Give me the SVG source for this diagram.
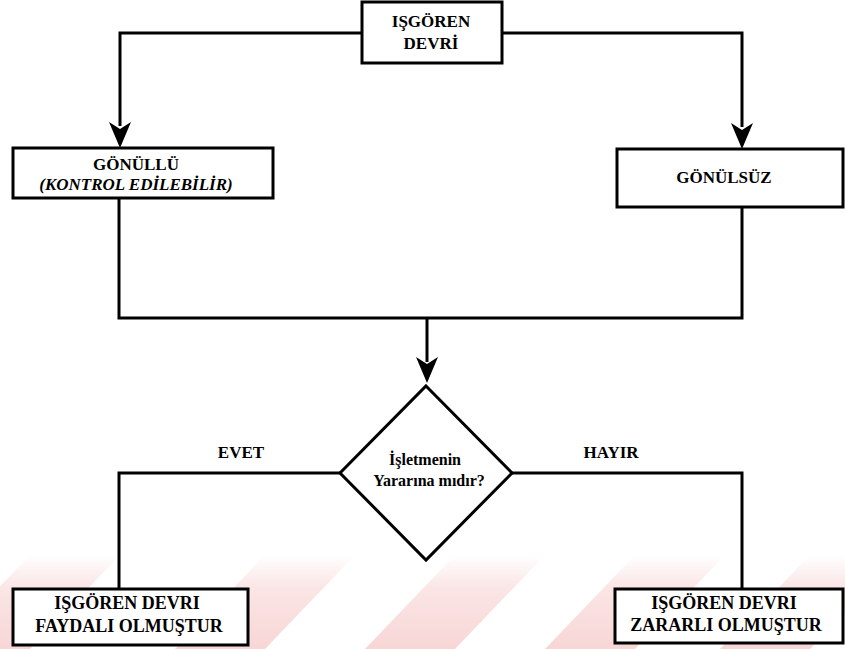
<svg xmlns="http://www.w3.org/2000/svg" width="845" height="649" viewBox="0 0 845 649">
<style>
.box{fill:#fff;stroke:#000;stroke-width:3}
.ln{fill:none;stroke:#000;stroke-width:3}
text{font-family:'Liberation Serif','Times New Roman','DejaVu Serif',serif;font-weight:bold;font-size:17px;fill:#000;text-anchor:middle}
.it{font-style:italic}
.d{font-size:16px}
.b{font-size:18px}
.ah{fill:#000}
</style>
<defs>
<linearGradient id="wm" x1="0" y1="0" x2="0" y2="1">
<stop offset="0" stop-color="#f7d0d0" stop-opacity="0"/>
<stop offset="0.35" stop-color="#f7d0d0" stop-opacity="0.55"/>
<stop offset="1" stop-color="#f5c4c4" stop-opacity="0.7"/>
</linearGradient>
<path id="arrow" d="M0,0 L-11,-26 L0,-19 L11,-26 Z"/>
</defs>
<rect width="845" height="649" fill="#fff"/>
<g id="watermark" fill="url(#wm)">
<polygon points="-60,649 30,649 120,555 30,555"/>
<polygon points="175,649 265,649 355,555 265,555"/>
<polygon points="365,649 455,649 545,555 455,555"/>
<polygon points="545,649 635,649 725,555 635,555"/>
<polygon points="720,649 810,649 900,555 810,555"/>
</g>
<g id="connectors">
<polyline class="ln" points="362,33 120,33 120,126"/>
<polyline class="ln" points="502,33 742,33 742,127"/>
<use href="#arrow" x="120" y="148" class="ah"/>
<use href="#arrow" x="742" y="149" class="ah"/>
<polyline class="ln" points="119,198 119,318 742,318 742,207"/>
<line class="ln" x1="427" y1="318" x2="427" y2="362"/>
<use href="#arrow" x="427" y="383" class="ah"/>
<polyline class="ln" points="340,473 119,473 119,589"/>
<polyline class="ln" points="512,473 742,473 742,589"/>
</g>
<g id="n-isgoren-devri">
<rect class="box" x="362" y="2" width="140" height="61"/>
<text x="431" y="27">IŞGÖREN</text>
<text x="431" y="49">DEVRİ</text>
</g>
<g id="n-gonullu">
<rect class="box" x="13" y="148" width="260" height="50"/>
<text x="136" y="170">GÖNÜLLÜ</text>
<text class="it" x="136" y="190">(KONTROL EDİLEBİLİR)</text>
</g>
<g id="n-gonulsuz">
<rect class="box" x="617" y="149" width="226" height="58"/>
<text x="724" y="183">GÖNÜLSÜZ</text>
</g>
<g id="n-decision">
<polygon class="box" points="426,386 512,473 426,560 340,473"/>
<text class="d" x="425" y="465">İşletmenin</text>
<text class="d" x="429" y="486">Yararına mıdır?</text>
</g>
<g id="labels">
<text x="241" y="458">EVET</text>
<text x="611" y="458">HAYIR</text>
</g>
<g id="n-faydali">
<rect class="box" x="13" y="589" width="235" height="56"/>
<text class="b" x="127" y="609">IŞGÖREN DEVRI</text>
<text class="b" x="129" y="632">FAYDALI OLMUŞTUR</text>
</g>
<g id="n-zararli">
<rect class="box" x="615" y="589" width="228" height="54"/>
<text class="b" x="724" y="609">IŞGÖREN DEVRI</text>
<text class="b" x="726" y="631">ZARARLI OLMUŞTUR</text>
</g>
</svg>
